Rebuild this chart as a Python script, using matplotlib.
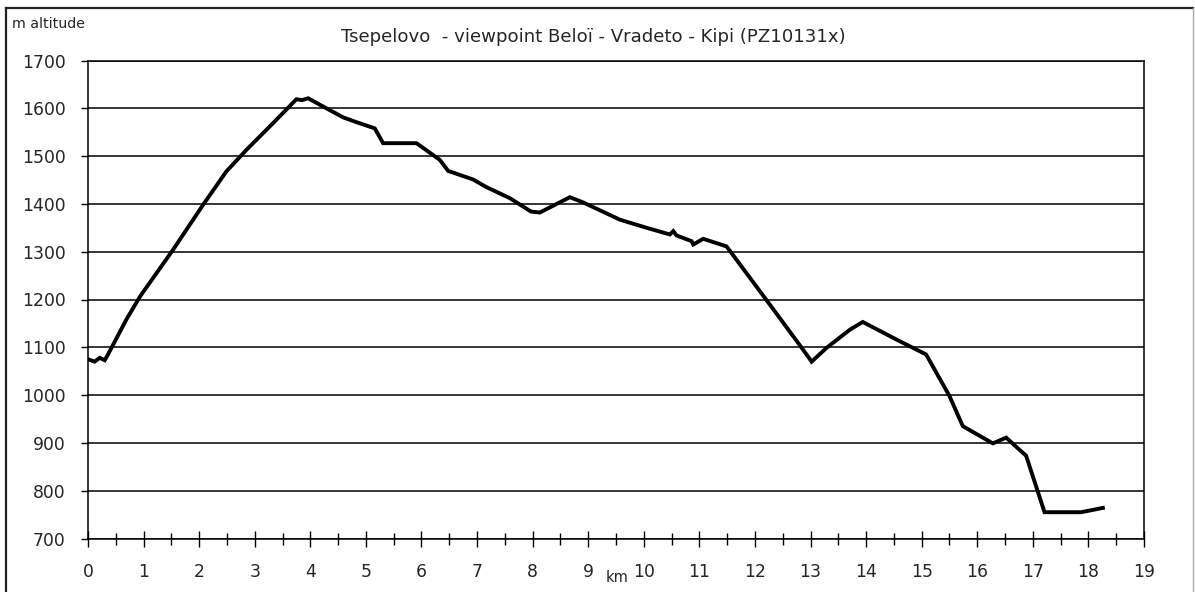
import matplotlib
matplotlib.use("Agg")
import matplotlib.pyplot as plt
from matplotlib.ticker import MultipleLocator
from matplotlib.lines import Line2D

plt.rcParams['font.family'] = ['DejaVu Sans']

title = "Tsepelovo  - viewpoint Beloï - Vradeto - Kipi (PZ10131x)"
y_label = "m altitude"
x_label = "km"

km = [0.0, 0.12, 0.21, 0.30, 0.36, 0.69, 0.94, 1.53, 2.07, 2.49, 2.85, 3.33,
      3.75, 3.85, 3.96, 4.29, 4.59, 4.83, 5.16, 5.31, 5.91, 6.08, 6.33, 6.48,
      6.93, 7.17, 7.59, 7.97, 8.13, 8.67, 8.91, 9.57, 10.05, 10.47, 10.53,
      10.59, 10.86, 10.89, 11.07, 11.49, 12.20, 12.86, 13.02, 13.29, 13.71,
      13.94, 14.60, 15.08, 15.50, 15.74, 16.28, 16.52, 16.88, 17.21, 17.87,
      18.26]
alt = [1075, 1070, 1078, 1073, 1085, 1158, 1207, 1304, 1398, 1468, 1513, 1569,
       1619, 1617, 1621, 1600, 1581, 1571, 1558, 1527, 1527, 1513, 1492, 1469,
       1451, 1435, 1412, 1384, 1382, 1414, 1403, 1367, 1350, 1336, 1343,
       1334, 1322, 1315, 1327, 1311, 1200, 1096, 1070, 1099, 1137,
       1153, 1113, 1085, 998, 935, 899, 911, 873, 755, 755,
       764]

W, H = 1195, 592
fig = plt.figure(figsize=(W / 100, H / 100), dpi=100)
fig.patch.set_facecolor('white')

left, right, top, bottom = 88, 1144, 60.5, 538.5
ax = fig.add_axes([left / W, (H - bottom) / H, (right - left) / W, (bottom - top) / H])

ax.plot(km, alt, color='black', lw=2.8, solid_joinstyle='miter', zorder=3)

ax.set_xlim(0, 19)
ax.set_ylim(700, 1700)
ax.xaxis.set_major_locator(MultipleLocator(1))
ax.xaxis.set_minor_locator(MultipleLocator(0.5))
ax.yaxis.set_major_locator(MultipleLocator(100))

ax.grid(axis='y', color='black', lw=1.1, zorder=1)
for s in ax.spines.values():
    s.set_color('black')
    s.set_linewidth(1.1)

ax.tick_params(axis='x', which='major', direction='inout', length=11, width=1,
               labelsize=12.4, pad=12, colors='black')
ax.tick_params(axis='x', which='minor', direction='inout', length=8, width=1)
ax.tick_params(axis='y', which='major', direction='out', length=5, width=1,
               labelsize=12.4, pad=11, colors='black')
for lbl in ax.get_xticklabels() + ax.get_yticklabels():
    lbl.set_color('#262626')

fig.text(593 / W, 1 - 37 / H, title, ha='center', va='center', fontsize=13.1, color='#262626')
fig.text(12 / W, 1 - 24 / H, y_label, ha='left', va='center', fontsize=10.2, color='#262626')
fig.text(617 / W, 1 - 578 / H, x_label, ha='center', va='center', fontsize=10.5, color='#262626')

# outer frame
fig.add_artist(Line2D([5.5 / W, 5.5 / W], [0, 1 - 8 / H], transform=fig.transFigure, color='#222222', lw=1.6))
fig.add_artist(Line2D([5.5 / W, 1192.5 / W], [1 - 8 / H, 1 - 8 / H], transform=fig.transFigure, color='#222222', lw=1.6))
fig.add_artist(Line2D([1192.5 / W, 1192.5 / W], [0, 1 - 8 / H], transform=fig.transFigure, color='#aaaaaa', lw=1.0))

fig.savefig('out.png', dpi=100)
